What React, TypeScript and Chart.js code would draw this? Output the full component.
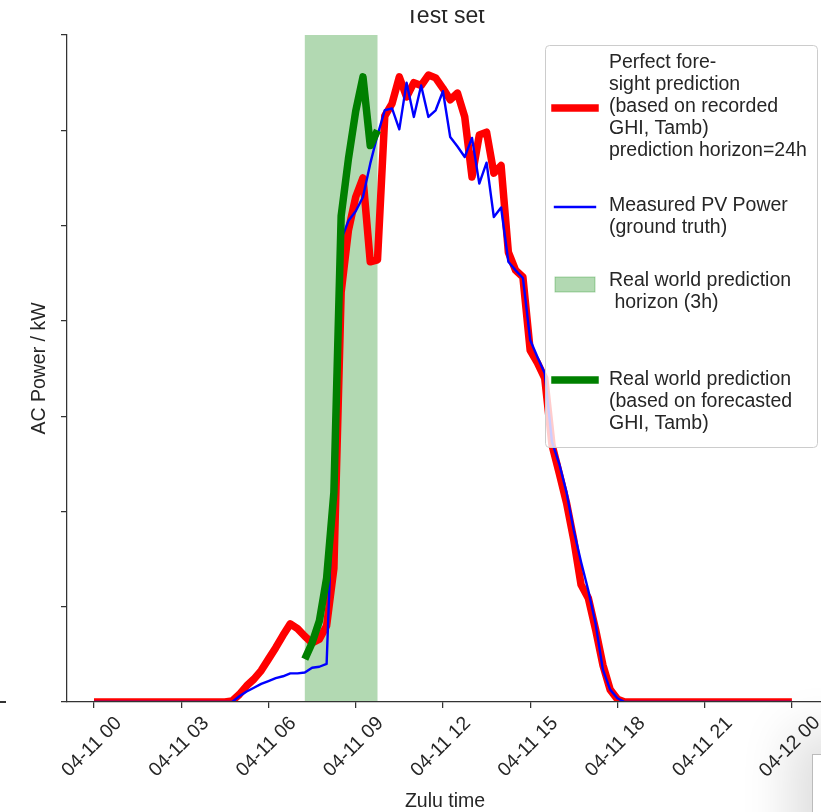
import React, { useEffect, useRef } from "react";
import { Chart, registerables } from "chart.js";

Chart.register(...registerables);

// ---------- data ----------
const xTickHours = [0, 3, 6, 9, 12, 15, 18, 21, 24];
const xTickLabels = [
  "04-11 00", "04-11 03", "04-11 06", "04-11 09", "04-11 12",
  "04-11 15", "04-11 18", "04-11 21", "04-12 00",
];
const yTickValues = [0, 1, 2, 3, 4, 5, 6, 7];

// hours of day (Zulu) for the perfect-foresight and measured series
const dayHours = [
  0,
  4.5, 4.75, 5, 5.25, 5.5, 5.75, 6, 6.25, 6.5, 6.75,
  7, 7.25, 7.5, 7.75, 8, 8.25, 8.5, 8.75, 9, 9.25,
  9.5, 9.75, 10, 10.25, 10.5, 10.75, 11, 11.25, 11.5, 11.75,
  12, 12.25, 12.5, 12.75, 13, 13.25, 13.5, 13.75, 14, 14.25,
  14.5, 14.75, 15, 15.25, 15.5, 15.75, 16, 16.25, 16.5, 16.75,
  17, 17.25, 17.5, 17.75, 18, 18.25,
  24,
];

const perfectForesight = [
  0,
  0, 0.01, 0.08, 0.17, 0.24, 0.33, 0.45, 0.57, 0.7, 0.82,
  0.77, 0.69, 0.62, 0.66, 0.8, 1.4, 4.3, 4.95, 5.3, 5.5,
  4.62, 4.64, 6.15, 6.28, 6.56, 6.35, 6.5, 6.47, 6.58, 6.55,
  6.44, 6.32, 6.39, 6.14, 5.51, 5.95, 5.98, 5.55, 5.63, 4.72,
  4.53, 4.46, 3.69, 3.56, 3.4, 2.7, 2.4, 2.09, 1.7, 1.23,
  1.09, 0.76, 0.39, 0.13, 0.03, 0,
  0,
];

const measuredPower = [
  0,
  0, 0, 0.06, 0.11, 0.15, 0.19, 0.22, 0.25, 0.27, 0.3,
  0.3, 0.31, 0.36, 0.37, 0.4, 2.5, 4.85, 5.05, 5.15, 5.3,
  5.65, 5.95, 6.21, 6.23, 6.01, 6.5, 6.14, 6.47, 6.14, 6.21,
  6.41, 5.93, 5.83, 5.72, 5.92, 5.44, 5.66, 5.09, 5.19, 4.62,
  4.53, 4.45, 3.8, 3.62, 3.45, 2.73, 2.5, 2.2, 1.8, 1.47,
  1.17, 0.82, 0.34, 0.13, 0.04, 0,
  0,
];

const realWorldHours = [7.25, 7.5, 7.75, 8, 8.25, 8.5, 8.75, 9, 9.25, 9.5, 9.75];
const realWorldPrediction = [0.45, 0.62, 0.85, 1.3, 2.2, 5.1, 5.7, 6.2, 6.56, 5.84, 6.0];

const horizonSpan = [7.25, 9.75];

const titleText = "Test set";
const xAxisTitle = "Zulu time";
const yAxisTitle = "AC Power / kW";
const legendTexts = [
  ["Perfect fore-", "sight prediction", "(based on recorded", "GHI, Tamb)", "prediction horizon=24h"],
  ["Measured PV Power", "(ground truth)"],
  ["Real world prediction", " horizon (3h)"],
  ["Real world prediction", "(based on forecasted", "GHI, Tamb)"],
];

// ---------- styling ----------
const FONT = '"Liberation Sans", Arial, Helvetica, sans-serif';
const TEXT = "#262626";
const AXIS = "#333333";
const X_MIN = -0.928;
const X_MAX = 25.07;

const pairs = (xs: number[], ys: number[]) => xs.map((x, i) => ({ x, y: ys[i] }));

const spanPlugin = {
  id: "horizonSpan",
  beforeDatasetsDraw(chart: any) {
    const { ctx, chartArea, scales } = chart;
    const x0 = scales.x.getPixelForValue(horizonSpan[0]);
    const x1 = scales.x.getPixelForValue(horizonSpan[1]);
    ctx.save();
    ctx.fillStyle = "rgba(0,128,0,0.3)";
    ctx.fillRect(x0, chartArea.top, x1 - x0, chartArea.bottom - chartArea.top);
    ctx.restore();
  },
};

const decorPlugin = {
  id: "decor",
  afterDraw(chart: any) {
    const { ctx, chartArea, scales } = chart;
    const cx = (chartArea.left + chartArea.right) / 2;
    ctx.save();

    // title (top part cut off as in the reference)
    ctx.save();
    ctx.beginPath();
    ctx.rect(0, 10, chart.width, 40);
    ctx.clip();
    ctx.fillStyle = TEXT;
    ctx.font = `23px ${FONT}`;
    ctx.textAlign = "center";
    ctx.textBaseline = "alphabetic";
    ctx.fillText(titleText, cx, 23);
    ctx.restore();

    // x tick labels, rotated 45deg, centred on tick
    ctx.fillStyle = TEXT;
    ctx.font = `19.5px ${FONT}`;
    ctx.textAlign = "center";
    ctx.textBaseline = "middle";
    xTickHours.forEach((h, i) => {
      const px = scales.x.getPixelForValue(h);
      ctx.save();
      ctx.translate(px - 2, 747);
      ctx.rotate(-Math.PI / 4);
      ctx.fillText(xTickLabels[i], 0, 0);
      ctx.restore();
    });

    // axis titles
    ctx.textBaseline = "alphabetic";
    ctx.fillText(xAxisTitle, cx, 807);
    ctx.save();
    ctx.translate(45, (chartArea.top + chartArea.bottom) / 2);
    ctx.rotate(-Math.PI / 2);
    ctx.fillText(yAxisTitle, 0, 0);
    ctx.restore();

    // legend
    ctx.beginPath();
    (ctx as any).roundRect(545.5, 45.5, 272, 402, 4);
    ctx.fillStyle = "rgba(255,255,255,0.8)";
    ctx.fill();
    ctx.strokeStyle = "#cccccc";
    ctx.lineWidth = 1;
    ctx.stroke();

    const handle = (y: number, color: string, w: number) => {
      ctx.beginPath();
      ctx.moveTo(555, y);
      ctx.lineTo(595, y);
      ctx.strokeStyle = color;
      ctx.lineWidth = w;
      ctx.lineCap = "square";
      ctx.stroke();
    };
    handle(108, "#ff0000", 7.5);
    handle(207, "#0000ff", 2.4);
    ctx.fillStyle = "rgba(0,128,0,0.3)";
    ctx.fillRect(555, 277, 40, 15);
    ctx.strokeStyle = "rgba(0,128,0,0.3)";
    ctx.lineWidth = 1;
    ctx.strokeRect(555, 277, 40, 15);
    handle(380, "#008000", 7.5);

    const starts = [63, 206, 281, 380];
    ctx.fillStyle = TEXT;
    ctx.font = `19.5px ${FONT}`;
    ctx.textAlign = "left";
    ctx.textBaseline = "middle";
    legendTexts.forEach((lines, k) => {
      lines.forEach((t, j) => ctx.fillText(t, 609, starts[k] + j * 21.8));
    });

    ctx.restore();
  },
};

export default function App() {
  const ref = useRef<HTMLCanvasElement>(null);

  useEffect(() => {
    const canvas = ref.current;
    if (!canvas) return;
    const tickGrid = {
      display: true,
      drawOnChartArea: false,
      drawTicks: true,
      tickLength: 6,
      color: AXIS,
      lineWidth: 1.25,
    };
    const chart = new Chart(canvas, {
      type: "line",
      data: {
        datasets: [
          {
            label: "Perfect foresight prediction",
            data: pairs(dayHours, perfectForesight),
            borderColor: "#ff0000",
            borderWidth: 7.5,
            pointRadius: 0,
            tension: 0,
            borderJoinStyle: "round",
            clip: 0,
            order: 3,
          },
          {
            label: "Measured PV Power",
            data: pairs(dayHours, measuredPower),
            borderColor: "#0000ff",
            borderWidth: 2.4,
            pointRadius: 0,
            tension: 0,
            borderJoinStyle: "round",
            clip: 0,
            order: 2,
          },
          {
            label: "Real world prediction",
            data: pairs(realWorldHours, realWorldPrediction),
            borderColor: "#008000",
            borderWidth: 7.5,
            pointRadius: 0,
            tension: 0,
            borderJoinStyle: "round",
            clip: 0,
            order: 1,
          },
        ],
      },
      options: {
        responsive: false,
        animation: false,
        devicePixelRatio: 1,
        layout: { padding: { top: 35, left: 0, right: 7, bottom: 0 } },
        plugins: {
          legend: { display: false },
          tooltip: { enabled: false },
          title: { display: false },
        },
        scales: {
          x: {
            type: "linear",
            min: X_MIN,
            max: X_MAX,
            afterBuildTicks: (s: any) => {
              s.ticks = xTickHours.map((v) => ({ value: v }));
            },
            afterFit: (s: any) => {
              s.height = 110;
            },
            ticks: { display: false },
            grid: tickGrid,
            border: { display: true, color: AXIS, width: 1.25, z: 1 },
          },
          y: {
            type: "linear",
            min: 0,
            max: 7,
            afterBuildTicks: (s: any) => {
              s.ticks = yTickValues.map((v) => ({ value: v }));
            },
            afterFit: (s: any) => {
              s.width = 67;
            },
            ticks: { display: false },
            grid: tickGrid,
            border: { display: true, color: AXIS, width: 1.25, z: 1 },
          },
        },
      } as any,
      plugins: [spanPlugin, decorPlugin],
    });
    return () => chart.destroy();
  }, []);

  return (
    <div
      style={{
        position: "fixed",
        left: 0,
        top: 0,
        width: 821,
        height: 812,
        overflow: "hidden",
        background: "#fff",
      }}
    >
      <canvas ref={ref} width={830} height={812} style={{ display: "block", width: 830, height: 812 }} />
      <div style={{ position: "absolute", left: 0, top: 701, width: 6, height: 1.5, background: AXIS }} />
      <div
        style={{
          position: "absolute",
          left: 812,
          top: 754,
          width: 40,
          height: 90,
          background: "#fff",
          border: "1px solid #bbbbbb",
          boxShadow: "0 0 50px 22px rgba(0,0,0,0.13)",
        }}
      />
    </div>
  );
}
